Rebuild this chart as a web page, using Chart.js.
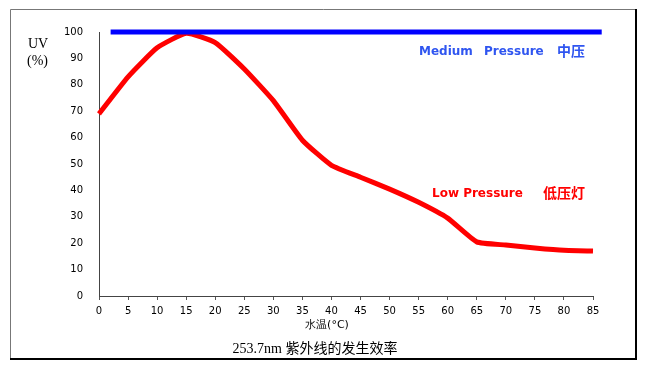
<!DOCTYPE html>
<html>
<head>
<meta charset="utf-8">
<script src="https://cdn.jsdelivr.net/npm/chart.js@4"></script>
<style>
  html, body { margin: 0; padding: 0; background: #fff; }
  #wrap { width: 652px; height: 368px; position: relative; }
</style>
</head>
<body>
<div id="wrap"><canvas id="chart" width="652" height="368"></canvas></div>
<script>
// water temperature (°C) and relative UV output (%)
const temps = [0, 5, 10, 15, 20, 25, 30, 35, 40, 45, 50, 55, 60, 65, 70, 75, 80, 85];
const lowPressure = [69, 83, 94, 99.5, 96, 86, 74, 59, 49.5, 45, 40.5, 35.5, 29.5, 20.5, 19.3, 18.2, 17.3, 17];
const mediumX = [2, 86.5];
const mediumPressure = [100, 100];

const yTicks = [0, 10, 20, 30, 40, 50, 60, 70, 80, 90, 100];

// frame + free text labels
const annotations = {
  id: 'annotations',
  beforeDraw(chart) {
    const ctx = chart.ctx;
    ctx.save();
    ctx.fillStyle = '#fff';
    ctx.fillRect(0, 0, chart.width, chart.height);
    ctx.strokeStyle = '#777';
    ctx.lineWidth = 1;
    ctx.beginPath();
    ctx.moveTo(10.5, 359); ctx.lineTo(10.5, 9.5); ctx.lineTo(636, 9.5);
    ctx.stroke();
    ctx.strokeStyle = '#000';
    ctx.lineWidth = 2;
    ctx.beginPath();
    ctx.moveTo(636, 9); ctx.lineTo(636, 359); ctx.lineTo(10, 359);
    ctx.stroke();
    ctx.restore();
  },
  afterDraw(chart) {
    const ctx = chart.ctx;
    ctx.save();
    ctx.textBaseline = 'alphabetic';
    ctx.fillStyle = '#000';
    ctx.font = '14px "Liberation Serif", serif';
    ctx.textAlign = 'left';
    ctx.fillText('UV', 28, 48);
    ctx.fillText('(%)', 27, 65);

    ctx.font = '11px "DejaVu Sans", sans-serif';
    ctx.textAlign = 'center';
    ctx.fillText('水温(°C)', 327, 328);

    ctx.font = '14px "Liberation Serif", "Noto Sans CJK SC", serif';
    ctx.fillText('253.7nm 紫外线的发生效率', 315, 353);

    ctx.textAlign = 'left';
    ctx.font = 'bold 12px "DejaVu Sans", sans-serif';
    ctx.fillStyle = '#2f55f0';
    ctx.fillText('Medium', 419, 55);
    ctx.fillText('Pressure', 484, 55);
    ctx.font = 'bold 14px "Noto Sans CJK SC", sans-serif';
    ctx.fillText('中压', 557, 56);

    ctx.fillStyle = '#ff0000';
    ctx.font = 'bold 12px "DejaVu Sans", sans-serif';
    ctx.fillText('Low Pressure', 432, 197);
    ctx.font = 'bold 14px "Noto Sans CJK SC", sans-serif';
    ctx.fillText('低压灯', 543, 198);
    ctx.restore();
  }
};

new Chart(document.getElementById('chart'), {
  type: 'scatter',
  data: {
    datasets: [
      {
        label: 'Medium Pressure',
        data: mediumX.map((x, i) => ({ x, y: mediumPressure[i] })),
        showLine: true,
        borderColor: '#0000ff',
        borderWidth: 5,
        borderCapStyle: 'butt',
        pointRadius: 0,
        clip: false
      },
      {
        label: 'Low Pressure',
        data: temps.map((x, i) => ({ x, y: lowPressure[i] })),
        showLine: true,
        borderColor: '#ff0000',
        borderWidth: 5,
        tension: 0.15,
        pointRadius: 0,
        clip: false
      }
    ]
  },
  plugins: [annotations],
  options: {
    responsive: false,
    animation: false,
    layout: { padding: { left: 10, right: 59, top: 32, bottom: 10 } },
    plugins: { legend: { display: false }, tooltip: { enabled: false } },
    scales: {
      x: {
        type: 'linear',
        min: 0,
        max: 85,
        afterBuildTicks: axis => { axis.ticks = temps.map(v => ({ value: v })); },
        afterFit: axis => { axis.height = 62; },
        grid: { drawOnChartArea: false, drawTicks: true, tickLength: 4, color: '#555' },
        border: { color: '#444', width: 1 },
        ticks: { color: '#000', font: { family: 'DejaVu Sans', size: 10 }, padding: 5, maxRotation: 0, autoSkip: false }
      },
      y: {
        min: 0,
        max: 100,
        afterBuildTicks: axis => { axis.ticks = yTicks.map(v => ({ value: v })); },
        afterFit: axis => { axis.width = 89; },
        grid: { display: false, drawTicks: false },
        border: { color: '#444', width: 1 },
        ticks: { color: '#000', font: { family: 'DejaVu Sans', size: 10 }, padding: 16 }
      }
    }
  }
});
</script>
</body>
</html>
